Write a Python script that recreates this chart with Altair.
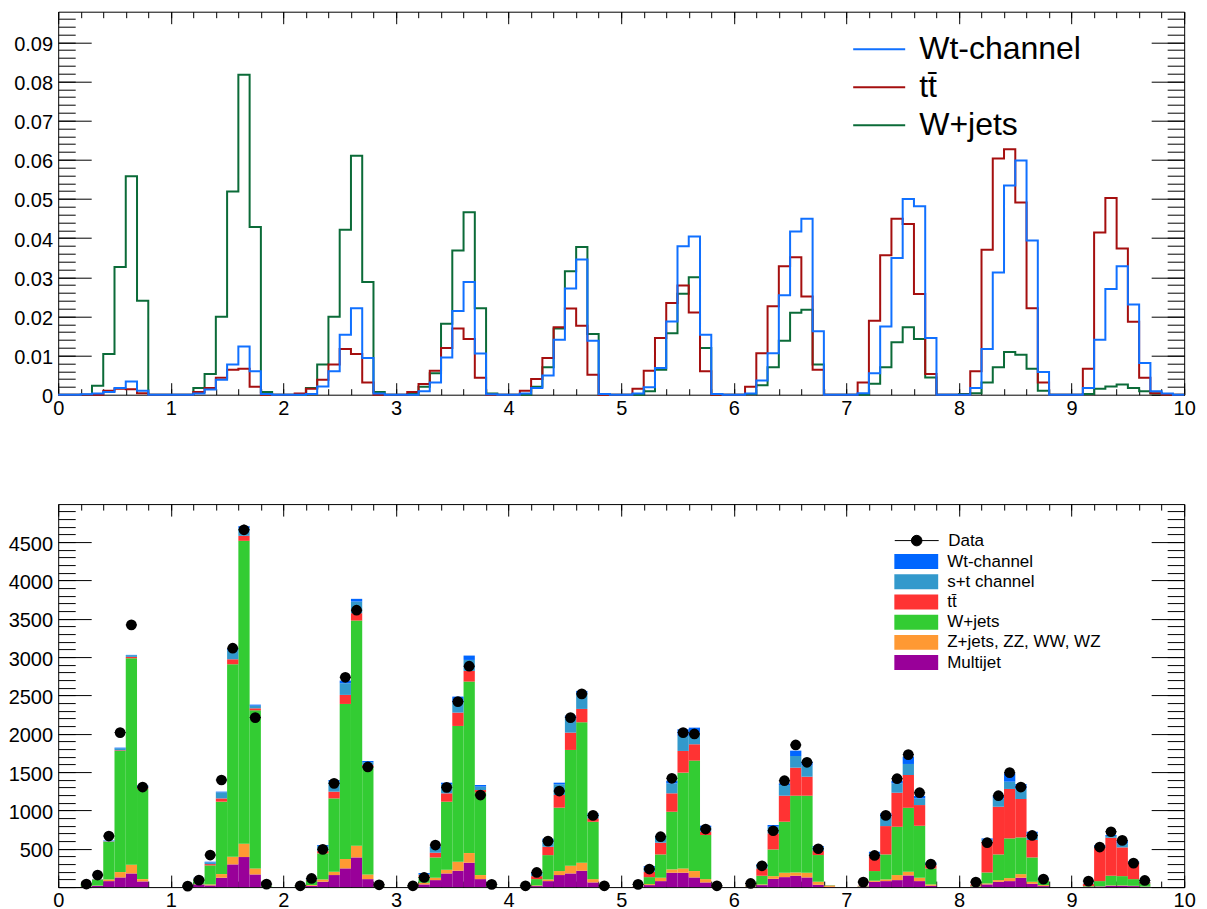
import altair as alt
import pandas as pd

FONT = "Liberation Sans"
X_MAX = 10.0
BIN_WIDTH = 0.1
PLOT_W, PLOT_H = 1126, 383
TOP_Y_MAX = 0.0978
BOT_Y_MAX = 4996

# ---------------- upper pad: normalised shapes (one row = 10 bins of one unit interval)
wt_shape = [
    [0, 0, 0.0001, 0.0003, 0.0007, 0.0017, 0.0034, 0.0010, 0, 0],
    [0, 0, 0.0003, 0.0013, 0.0038, 0.0077, 0.0123, 0.0060, 0.0002, 0],
    [0, 0, 0.0002, 0.0021, 0.0060, 0.0153, 0.0221, 0.0094, 0.0003, 0],
    [0, 0, 0.0009, 0.0031, 0.0095, 0.0214, 0.0288, 0.0105, 0.0001, 0],
    [0, 0.0003, 0.0017, 0.0049, 0.0140, 0.0271, 0.0345, 0.0138, 0.0002, 0],
    [0, 0.0003, 0.0019, 0.0068, 0.0187, 0.0379, 0.0404, 0.0153, 0.0002, 0],
    [0, 0.0003, 0.0036, 0.0106, 0.0254, 0.0417, 0.0449, 0.0162, 0, 0],
    [0, 0.0004, 0.0055, 0.0174, 0.0349, 0.0500, 0.0481, 0.0145, 0, 0],
    [0, 0.0017, 0.0117, 0.0312, 0.0534, 0.0598, 0.0394, 0.0058, 0, 0],
    [0, 0.0017, 0.0140, 0.0270, 0.0328, 0.0230, 0.0081, 0.0009, 0.0003, 0],
]
tt_shape = [
    [0, 0, 0, 0, 0.0010, 0.0015, 0.0014, 0.0004, 0, 0],
    [0, 0, 0.0007, 0.0017, 0.0043, 0.0064, 0.0066, 0.0020, 0, 0],
    [0, 0.0003, 0.0015, 0.0038, 0.0077, 0.0117, 0.0104, 0.0031, 0, 0],
    [0, 0.0007, 0.0027, 0.0061, 0.0119, 0.0169, 0.0142, 0.0043, 0, 0],
    [0, 0.0010, 0.0040, 0.0094, 0.0172, 0.0220, 0.0176, 0.0051, 0, 0],
    [0, 0.0015, 0.0061, 0.0145, 0.0234, 0.0279, 0.0210, 0.0060, 0, 0],
    [0, 0.0020, 0.0106, 0.0226, 0.0328, 0.0351, 0.0251, 0.0064, 0, 0],
    [0, 0.0031, 0.0189, 0.0356, 0.0449, 0.0436, 0.0257, 0.0053, 0, 0],
    [0, 0.0060, 0.0370, 0.0603, 0.0627, 0.0491, 0.0221, 0.0031, 0, 0],
    [0, 0.0066, 0.0414, 0.0502, 0.0373, 0.0186, 0.0043, 0.0004, 0, 0],
]
wjets_shape = [
    [0, 0, 0, 0.0023, 0.0104, 0.0326, 0.0558, 0.0240, 0, 0],
    [0, 0, 0.0017, 0.0053, 0.0199, 0.0519, 0.0817, 0.0428, 0.0007, 0],
    [0, 0, 0.0017, 0.0077, 0.0199, 0.0421, 0.0610, 0.0288, 0.0007, 0],
    [0, 0.0002, 0.0020, 0.0055, 0.0181, 0.0368, 0.0466, 0.0221, 0.0003, 0],
    [0, 0, 0.0020, 0.0070, 0.0169, 0.0315, 0.0377, 0.0155, 0.0002, 0],
    [0, 0, 0.0009, 0.0064, 0.0157, 0.0258, 0.0300, 0.0119, 0, 0],
    [0, 0.0002, 0.0024, 0.0070, 0.0138, 0.0209, 0.0217, 0.0077, 0, 0],
    [0, 0, 0.0028, 0.0070, 0.0134, 0.0172, 0.0142, 0.0044, 0, 0],
    [0.0002, 0.0004, 0.0031, 0.0070, 0.0109, 0.0102, 0.0066, 0.0010, 0, 0],
    [0, 0.0002, 0.0015, 0.0021, 0.0026, 0.0017, 0.0009, 0.0003, 0, 0],
]

TOP_SERIES = ["Wt-channel", "tt\u0304", "W+jets"]
TOP_COLORS = ["#1070ff", "#a50f0f", "#0b6b38"]

# ---------------- lower pad: event counts per bin
multijet = [
    [0, 0, 5, 17, 78, 126, 178, 74, 0, 0],
    [0, 3, 35, 22, 122, 296, 392, 165, 3, 0],
    [0, 3, 17, 70, 157, 244, 387, 104, 3, 0],
    [0, 2, 35, 91, 178, 213, 318, 104, 2, 0],
    [0, 2, 13, 78, 157, 178, 213, 61, 2, 0],
    [0, 3, 26, 78, 187, 187, 126, 61, 2, 0],
    [0, 3, 26, 108, 130, 148, 126, 30, 3, 0],
    [0, 5, 69, 78, 91, 152, 78, 17, 0, 0],
    [0, 5, 35, 69, 78, 122, 43, 13, 0, 0],
    [0, 3, 8, 17, 17, 13, 4, 0, 0, 0],
]
zjets_diboson = [
    [0, 0, 3, 3, 22, 70, 114, 30, 0, 0],
    [0, 1, 3, 13, 48, 100, 174, 79, 2, 0],
    [0, 1, 9, 30, 43, 122, 153, 61, 1, 0],
    [0, 1, 22, 31, 48, 118, 126, 53, 1, 0],
    [0, 1, 9, 22, 52, 101, 105, 43, 1, 0],
    [0, 1, 13, 44, 44, 57, 83, 43, 1, 0],
    [0, 5, 9, 35, 57, 43, 61, 40, 15, 0],
    [0, 3, 14, 22, 66, 48, 44, 18, 0, 0],
    [0, 3, 13, 22, 39, 47, 26, 13, 0, 0],
    [0, 2, 2, 5, 5, 4, 2, 0, 0, 0],
]
wjets = [
    [0, 0, 22, 80, 492, 1579, 2693, 1175, 0, 0],
    [0, 6, 66, 248, 944, 2511, 3951, 2062, 10, 0],
    [0, 6, 61, 340, 957, 2023, 2937, 1406, 6, 0],
    [0, 5, 78, 265, 888, 1771, 2237, 1079, 6, 0],
    [0, 3, 82, 317, 827, 1510, 1832, 748, 3, 0],
    [0, 4, 91, 304, 752, 1249, 1441, 575, 2, 0],
    [0, 5, 113, 348, 666, 1001, 1005, 348, 5, 0],
    [0, 5, 126, 326, 630, 834, 678, 208, 0, 0],
    [0, 10, 143, 335, 518, 479, 318, 57, 0, 0],
    [0, 8, 68, 126, 121, 87, 41, 0, 0, 0],
]
ttbar = [
    [0, 0, 2, 3, 4, 9, 18, 13, 0, 0],
    [0, 1, 8, 17, 43, 65, 65, 26, 1, 0],
    [0, 1, 9, 30, 88, 118, 96, 22, 1, 0],
    [0, 1, 22, 61, 109, 174, 139, 30, 1, 0],
    [0, 1, 39, 109, 165, 226, 174, 44, 1, 0],
    [0, 3, 70, 153, 240, 283, 213, 44, 1, 0],
    [0, 5, 95, 209, 339, 366, 248, 56, 2, 0],
    [0, 5, 195, 370, 444, 428, 270, 44, 0, 0],
    [0, 15, 401, 622, 645, 501, 227, 17, 0, 0],
    [0, 30, 435, 496, 375, 218, 14, 0, 0, 0],
]
single_top_st = [
    [0, 0, 2, 2, 9, 26, 22, 26, 0, 0],
    [0, 0, 8, 22, 79, 118, 100, 35, 1, 0],
    [0, 0, 13, 65, 130, 152, 152, 35, 0, 0],
    [0, 0, 13, 65, 117, 130, 143, 44, 0, 0],
    [0, 0, 27, 87, 139, 187, 205, 53, 0, 0],
    [0, 0, 52, 78, 130, 196, 157, 60, 0, 0],
    [0, 0, 44, 88, 139, 152, 144, 44, 0, 0],
    [0, 0, 35, 122, 122, 144, 87, 22, 0, 0],
    [0, 0, 26, 109, 95, 131, 86, 13, 0, 0],
    [0, 3, 22, 22, 52, 9, 4, 0, 0, 0],
]
single_top_wt = [
    [0, 0, 1, 1, 4, 9, 4, 9, 0, 0],
    [0, 0, 2, 9, 9, 21, 26, 13, 0, 0],
    [0, 0, 4, 13, 22, 35, 35, 17, 0, 0],
    [0, 0, 13, 14, 22, 79, 57, 22, 0, 0],
    [0, 0, 13, 18, 22, 35, 30, 13, 0, 0],
    [0, 0, 22, 13, 35, 87, 60, 18, 0, 0],
    [0, 0, 13, 22, 22, 70, 52, 17, 0, 0],
    [0, 0, 22, 44, 34, 95, 31, 13, 0, 0],
    [0, 0, 17, 31, 109, 65, 22, 9, 0, 0],
    [0, 2, 13, 13, 31, 8, 4, 0, 0, 0],
]
data_counts = [
    [0, 0, 40, 157, 666, 2015, 3420, 1305, 0, 0],
    [0, 13, 91, 418, 1397, 3116, 4661, 2211, 39, 0],
    [0, 17, 113, 492, 1353, 2737, 3612, 1567, 30, 0],
    [0, 17, 126, 548, 1301, 2419, 2881, 1201, 35, 0],
    [0, 17, 191, 600, 1253, 2211, 2520, 935, 17, 0],
    [0, 35, 235, 657, 1419, 2015, 1998, 757, 17, 0],
    [0, 47, 278, 735, 1388, 1854, 1628, 500, 0, 0],
    [0, 65, 413, 935, 1414, 1728, 1231, 300, 0, 0],
    [0, 65, 579, 1192, 1493, 1305, 674, 104, 0, 0],
    [0, 78, 522, 722, 609, 313, 87, 0, 0, 0],
]

STACK_NAMES = ["Wt-channel", "s+t channel", "tt\u0304", "W+jets", "Z+jets, ZZ, WW, WZ", "Multijet"]
STACK_COLORS = ["#0066ff", "#3399cc", "#ff3333", "#33cc33", "#ff9933", "#990099"]

# tick positions and labels
x_major = list(range(11))
x_minor = [round(0.2 * i, 1) for i in range(51)]
top_y_major = [round(0.01 * i, 2) for i in range(10)]
top_y_minor = [round(0.002 * i, 3) for i in range(49)]
bot_y_labels = [500 * i for i in range(1, 10)]
bot_y_major = [500 * i for i in range(10)]
bot_y_minor = [100 * i for i in range(50)]

# custom legend glyphs (unit coordinates, scaled by the symbol size)
DATA_GLYPH = "M-1,0H1M0.24,0A0.24,0.24,0,1,1,-0.24,0A0.24,0.24,0,1,1,0.24,0Z"
BOX_GLYPH = "M-1,-0.34H1V0.34H-1Z"

xs = alt.Scale(domain=[0, X_MAX], nice=False, zero=False)


def frame_layers(ys, y_major, y_minor, y_labels, y_format):
    """Invisible anchor layers that carry the inward ticks and the labels."""
    anchor = pd.DataFrame({"ax": [0.0], "ay": [0.0]})
    base = alt.Chart(anchor).mark_point(opacity=0, size=1)
    tick_style = dict(domain=False, grid=False, labels=False, title=None,
                      tickColor="black", tickWidth=1)
    layers = []
    for orient in ("bottom", "top"):
        for vals, size in ((x_major, 12), (x_minor, 6)):
            layers.append(base.encode(
                x=alt.X("ax:Q", scale=xs, axis=alt.Axis(orient=orient, values=vals, tickSize=size,
                                                        offset=-size, **tick_style)),
                y=alt.Y("ay:Q", scale=ys, axis=None)))
    for orient in ("left", "right"):
        for vals, size in ((y_major, 33), (y_minor, 17)):
            layers.append(base.encode(
                x=alt.X("ax:Q", scale=xs, axis=None),
                y=alt.Y("ay:Q", scale=ys, axis=alt.Axis(orient=orient, values=vals, tickSize=size,
                                                        offset=-size, **tick_style))))
    label_style = dict(domain=False, grid=False, ticks=False, tickSize=0, title=None,
                       labelFont=FONT, labelFontSize=20, labelColor="black",
                       labelFlush=False, labelOverlap=False)
    layers.append(base.encode(
        x=alt.X("ax:Q", scale=xs, axis=alt.Axis(orient="bottom", values=x_major, format="d",
                                                labelPadding=3.5, **label_style)),
        y=alt.Y("ay:Q", scale=ys, axis=alt.Axis(orient="left", values=y_labels, format=y_format,
                                                labelPadding=5.6, labelOffset=2, **label_style))))
    return layers


# ---------------- upper pad
top_rows = []
for name, shape in zip(TOP_SERIES, (wt_shape, tt_shape, wjets_shape)):
    flat = [v for row in shape for v in row]
    flat = flat + [flat[-1]]
    for i, v in enumerate(flat):
        top_rows.append({"series": name, "edge": round(i * BIN_WIDTH, 1), "frac": v})
top_df = pd.DataFrame(top_rows)

ys_top = alt.Scale(domain=[0, TOP_Y_MAX], nice=False, zero=True)
top_color = alt.Color(
    "series:N",
    scale=alt.Scale(domain=TOP_SERIES, range=TOP_COLORS),
    legend=alt.Legend(orient="none", legendX=794, legendY=21, title=None, padding=0,
                      labelFont=FONT, labelFontSize=32, labelColor="black", labelOffset=13,
                      labelLimit=500, symbolType="stroke", symbolSize=2704,
                      symbolStrokeWidth=2, clipHeight=33, rowPadding=5),
)


def hist_outline(name):
    return (
        alt.Chart(top_df)
        .transform_filter(alt.datum.series == name)
        .mark_line(interpolate="step-after", strokeWidth=2)
        .encode(
            x=alt.X("edge:Q", scale=xs, axis=None),
            y=alt.Y("frac:Q", scale=ys_top, axis=None),
            color=top_color,
            order=alt.Order("edge:Q"),
        )
    )


top_layers = [hist_outline(n) for n in ("W+jets", "tt\u0304", "Wt-channel")]
top = alt.layer(
    *top_layers,
    *frame_layers(ys_top, top_y_major, top_y_minor, top_y_major, ".2~f"),
).resolve_axis(x="independent", y="independent").properties(width=PLOT_W, height=PLOT_H)

# ---------------- lower pad
components = [
    ("Multijet", multijet),
    ("Z+jets, ZZ, WW, WZ", zjets_diboson),
    ("W+jets", wjets),
    ("tt\u0304", ttbar),
    ("s+t channel", single_top_st),
    ("Wt-channel", single_top_wt),
]
stack_rows = []
for k, (name, grid) in enumerate(components):
    for g, row in enumerate(grid):
        for j, v in enumerate(row):
            if v > 0:
                lo = round(g + j * BIN_WIDTH, 1)
                stack_rows.append({"process": name, "lo": lo, "hi": round(lo + BIN_WIDTH, 1),
                                   "events": v, "layer": k})
stack_df = pd.DataFrame(stack_rows)

point_rows = []
for g, row in enumerate(data_counts):
    for j, v in enumerate(row):
        if v > 0:
            point_rows.append({"center": round(g + j * BIN_WIDTH + BIN_WIDTH / 2, 2),
                               "events": v, "label": "Data"})
point_df = pd.DataFrame(point_rows)

ys_bot = alt.Scale(domain=[0, BOT_Y_MAX], nice=False, zero=True)

bars = (
    alt.Chart(stack_df)
    .transform_stack(stack="events", groupby=["lo"], as_=["y_start", "y_end"],
                     sort=[alt.SortField("layer", order="ascending")])
    .mark_bar(strokeWidth=0)
    .encode(
        x=alt.X("lo:Q", scale=xs, axis=None),
        x2="hi:Q",
        y=alt.Y("y_start:Q", scale=ys_bot, axis=None),
        y2="y_end:Q",
        fill=alt.Fill(
            "process:N",
            scale=alt.Scale(domain=STACK_NAMES, range=STACK_COLORS),
            legend=alt.Legend(orient="none", legendX=836, legendY=48, title=None, padding=0,
                              labelFont=FONT, labelFontSize=17, labelColor="black", labelOffset=9,
                              labelLimit=400, symbolType=BOX_GLYPH, symbolSize=1936,
                              symbolStrokeWidth=0, symbolOpacity=1, clipHeight=19, rowPadding=1.2),
        ),
    )
)

err_base = alt.Chart(point_df).transform_calculate(
    xlo=f"datum.center - {BIN_WIDTH / 2}",
    xhi=f"datum.center + {BIN_WIDTH / 2}",
    ylo="datum.events - sqrt(datum.events)",
    yhi="datum.events + sqrt(datum.events)",
)
h_err = err_base.mark_rule(color="black", strokeWidth=1).encode(
    x=alt.X("xlo:Q", scale=xs, axis=None), x2="xhi:Q",
    y=alt.Y("events:Q", scale=ys_bot, axis=None))
v_err = err_base.mark_rule(color="black", strokeWidth=1).encode(
    x=alt.X("center:Q", scale=xs, axis=None),
    y=alt.Y("ylo:Q", scale=ys_bot, axis=None), y2="yhi:Q")

points = alt.Chart(point_df).mark_point(filled=True, size=115, opacity=1).encode(
    x=alt.X("center:Q", scale=xs, axis=None),
    y=alt.Y("events:Q", scale=ys_bot, axis=None),
    color=alt.Color(
        "label:N",
        scale=alt.Scale(domain=["Data"], range=["black"]),
        legend=alt.Legend(orient="none", legendX=836, legendY=27, title=None, padding=0,
                          labelFont=FONT, labelFontSize=17, labelColor="black", labelOffset=9,
                          symbolType=DATA_GLYPH, symbolSize=1936, symbolStrokeColor="black",
                          symbolStrokeWidth=1, symbolOpacity=1, clipHeight=19),
    ),
)

bottom = alt.layer(
    bars, h_err, v_err, points,
    *frame_layers(ys_bot, bot_y_major, bot_y_minor, bot_y_labels, "d"),
).resolve_axis(x="independent", y="independent").properties(width=PLOT_W, height=PLOT_H)

chart = (
    alt.vconcat(top, bottom, spacing=109.4, bounds="flush")
    .resolve_scale(color="independent", fill="independent")
    .resolve_legend(color="independent", fill="independent")
    .properties(padding={"left": 7.2, "top": 10.7, "right": 5, "bottom": 5}, background="white")
    .configure_view(stroke="black", strokeWidth=1)
)

chart.save("out.html", embed_options={"renderer": "svg", "actions": False})
